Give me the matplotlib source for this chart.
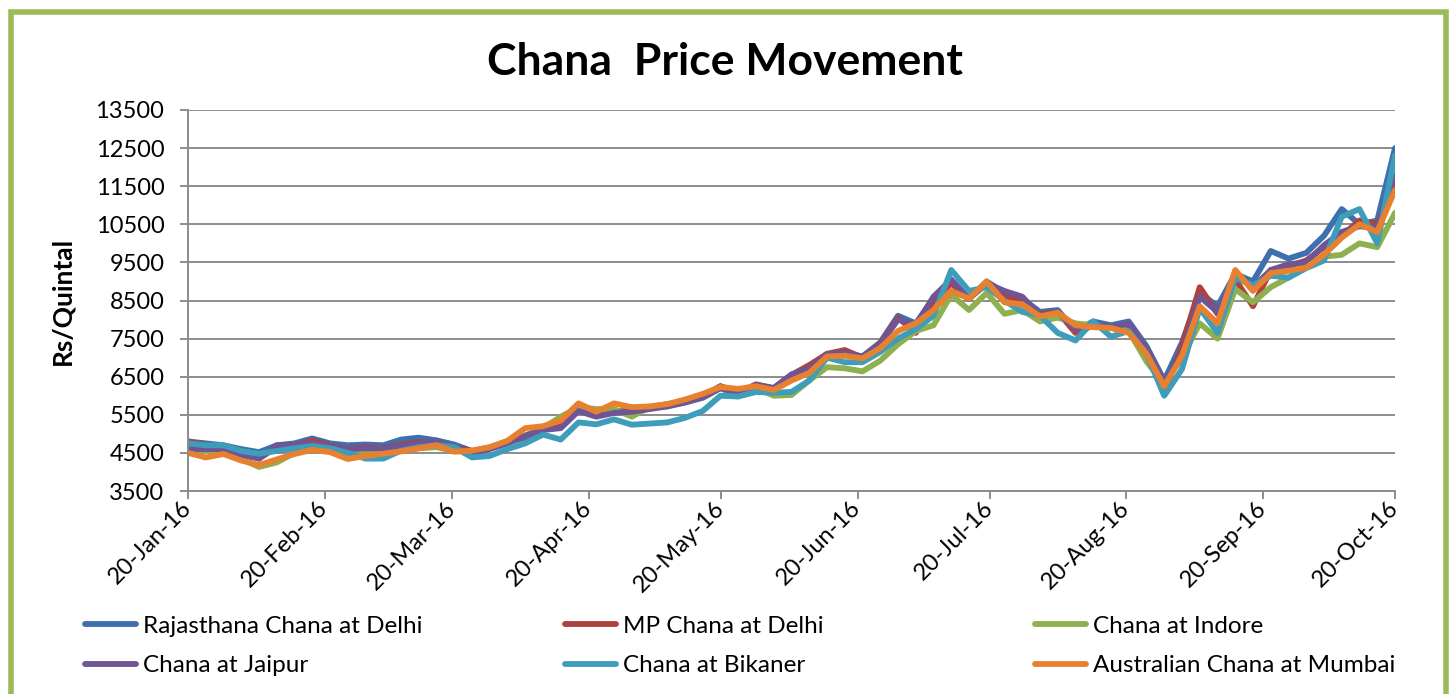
import pandas as pd
import matplotlib.pyplot as plt
import matplotlib.dates as mdates
from matplotlib.patches import Rectangle

plt.rcParams['font.family'] = 'Lato'

# price samples, about every 4 days from 20-Jan-16 to 20-Oct-16 (Rs/Quintal)
rajasthan_delhi = [4800, 4750, 4700, 4600, 4520, 4700, 4750, 4880, 4750, 4700,
                   4720, 4700, 4850, 4900, 4830, 4720, 4550, 4620, 4780, 4900,
                   5150, 5300, 5600, 5550, 5600, 5580, 5700, 5780, 5850, 6000,
                   6250, 6080, 6300, 6200, 6550, 6800, 7080, 7120, 7030, 7400,
                   8100, 7900, 8550, 9000, 8550, 9000, 8700, 8550, 8200, 8250,
                   7700, 7950, 7850, 7950, 7300, 6400, 7400, 8700, 8350, 9200,
                   9000, 9800, 9600, 9750, 10200, 10900, 10500, 10600, 12500]
mp_delhi = [4800, 4700, 4650, 4500, 4350, 4650, 4700, 4820, 4700, 4600,
            4650, 4620, 4720, 4780, 4760, 4650, 4550, 4620, 4780, 4950,
            5150, 5300, 5650, 5550, 5600, 5580, 5680, 5760, 5840, 5980,
            6250, 6080, 6280, 6200, 6530, 6800, 7100, 7200, 7000, 7380,
            8050, 7650, 8500, 8950, 8550, 8950, 8600, 8500, 8150, 8200,
            7650, 7850, 7800, 7850, 7100, 6100, 7300, 8850, 8150, 9050,
            8350, 9300, 9400, 9550, 9900, 10200, 10600, 10500, 11600]
indore = [4550, 4550, 4500, 4350, 4130, 4250, 4500, 4600, 4550, 4450,
          4500, 4520, 4580, 4620, 4650, 4550, 4550, 4650, 4800, 4950,
          5150, 5450, 5700, 5650, 5650, 5450, 5700, 5720, 5830, 5950,
          6200, 5980, 6200, 6000, 6020, 6400, 6750, 6720, 6640, 6920,
          7350, 7700, 7850, 8650, 8250, 8700, 8150, 8250, 7950, 8050,
          7900, 7850, 7780, 7700, 6900, 6300, 7000, 7900, 7500, 8800,
          8450, 8850, 9100, 9400, 9650, 9700, 10000, 9900, 10800]
jaipur = [4600, 4600, 4600, 4450, 4350, 4700, 4720, 4750, 4680, 4600,
          4620, 4620, 4680, 4750, 4800, 4650, 4480, 4600, 4750, 4950,
          5100, 5150, 5600, 5450, 5550, 5580, 5650, 5720, 5820, 5950,
          6200, 6050, 6250, 6200, 6560, 6700, 7100, 7120, 7030, 7350,
          8000, 7850, 8600, 9050, 8550, 8950, 8750, 8600, 8100, 8200,
          7750, 7850, 7800, 7900, 7250, 6350, 7100, 8600, 8200, 9150,
          8850, 9300, 9450, 9500, 9950, 10300, 10450, 10400, 11800]
bikaner = [4750, 4700, 4700, 4550, 4480, 4550, 4620, 4680, 4620, 4500,
           4350, 4350, 4560, 4650, 4700, 4650, 4380, 4420, 4600, 4750,
           4980, 4850, 5300, 5250, 5380, 5240, 5270, 5300, 5420, 5600,
           6000, 5980, 6100, 6080, 6100, 6400, 7000, 6880, 6880, 7150,
           7500, 7750, 8100, 9300, 8750, 8850, 8500, 8200, 8100, 7650,
           7450, 7950, 7550, 7700, 7100, 6000, 6700, 8300, 7650, 9100,
           8900, 9150, 9100, 9350, 9550, 10700, 10900, 10000, 12300]
australian_mumbai = [4500, 4380, 4470, 4300, 4180, 4330, 4470, 4580, 4520, 4340,
                     4420, 4480, 4540, 4620, 4700, 4530, 4560, 4650, 4820, 5150,
                     5200, 5350, 5800, 5580, 5800, 5700, 5720, 5780, 5900, 6050,
                     6230, 6180, 6250, 6150, 6400, 6600, 7030, 7050, 6980, 7250,
                     7700, 7900, 8250, 8750, 8550, 9000, 8450, 8400, 8080, 8180,
                     7850, 7800, 7780, 7650, 7100, 6250, 7050, 8350, 7900, 9300,
                     8750, 9220, 9280, 9360, 9700, 10150, 10500, 10300, 11400]

series_names = ['Rajasthana Chana at Delhi', 'MP Chana at Delhi', 'Chana at Indore',
                'Chana at Jaipur', 'Chana at Bikaner', 'Australian Chana at Mumbai']
series_data = [rajasthan_delhi, mp_delhi, indore, jaipur, bikaner, australian_mumbai]
colors = ['#3F70AE', '#B0413E', '#8EB04E', '#6F5596', '#3E9DBA', '#E8812F']

dates = pd.date_range('2016-01-20', '2016-10-20', periods=len(australian_mumbai))
tick_dates = [pd.Timestamp(2016, m, 20) for m in range(1, 11)]

fig = plt.figure(figsize=(14.5, 6.94), dpi=100)
ax = fig.add_axes([188 / 1450, 1 - 491 / 694, (1395 - 188) / 1450, (491 - 110) / 694])

lines = []
for name, vals, c in zip(series_names, series_data, colors):
    ln, = ax.plot(dates, vals, color=c, lw=4.2, label=name,
                  solid_joinstyle='round', solid_capstyle='round')
    lines.append(ln)

ax.set_xlim(pd.Timestamp('2016-01-20'), pd.Timestamp('2016-10-20'))
ax.set_ylim(3500, 13500)
ax.set_yticks(range(3500, 13501, 1000))
ax.set_xticks(tick_dates)
ax.xaxis.set_major_formatter(mdates.DateFormatter('%d-%b-%y'))

ax.yaxis.grid(True, color='#8C8C8C', lw=1.4)
ax.set_axisbelow(True)
for s in ['top', 'right']:
    ax.spines[s].set_visible(False)
for s in ['left', 'bottom']:
    ax.spines[s].set_color('#8C8C8C')
    ax.spines[s].set_linewidth(1.4)

ax.tick_params(axis='y', direction='out', length=6, width=1.4, color='#8C8C8C',
               labelsize=17, pad=11)
ax.tick_params(axis='x', direction='out', length=6, width=1.4, color='#8C8C8C',
               labelsize=17, pad=4)
for lab in ax.get_xticklabels():
    lab.set_rotation(45)
    lab.set_ha('right')
    lab.set_va('center')
    lab.set_rotation_mode('anchor')

fig.text(0.5, 1 - 62 / 694, 'Chana  Price Movement', ha='center', va='center',
         fontsize=32, fontweight='bold')
fig.text(62 / 1450, 1 - 301 / 694, 'Rs/Quintal', ha='center', va='center',
         rotation=90, fontsize=19, fontweight='bold')

# legend: three columns of two rows, like the Excel layout
col_x = [85, 565, 1035]
for i, x in enumerate(col_x):
    hs = [lines[i], lines[i + 3]]
    fig.legend(handles=hs, labels=[h.get_label() for h in hs], loc='center left',
               bbox_to_anchor=(x / 1450, 1 - 646 / 694), frameon=False,
               fontsize=17.5, handlelength=2.1, handletextpad=0.3,
               labelspacing=0.75, borderpad=0, borderaxespad=0)

# green outer frame
fig.patches.append(Rectangle((10.5 / 1450, -0.05), (1446 - 10.5) / 1450, 1.05 - 11.5 / 694,
                             transform=fig.transFigure, fill=False,
                             edgecolor='#9BBB59', lw=4))

plt.savefig('out.png', dpi=100)
